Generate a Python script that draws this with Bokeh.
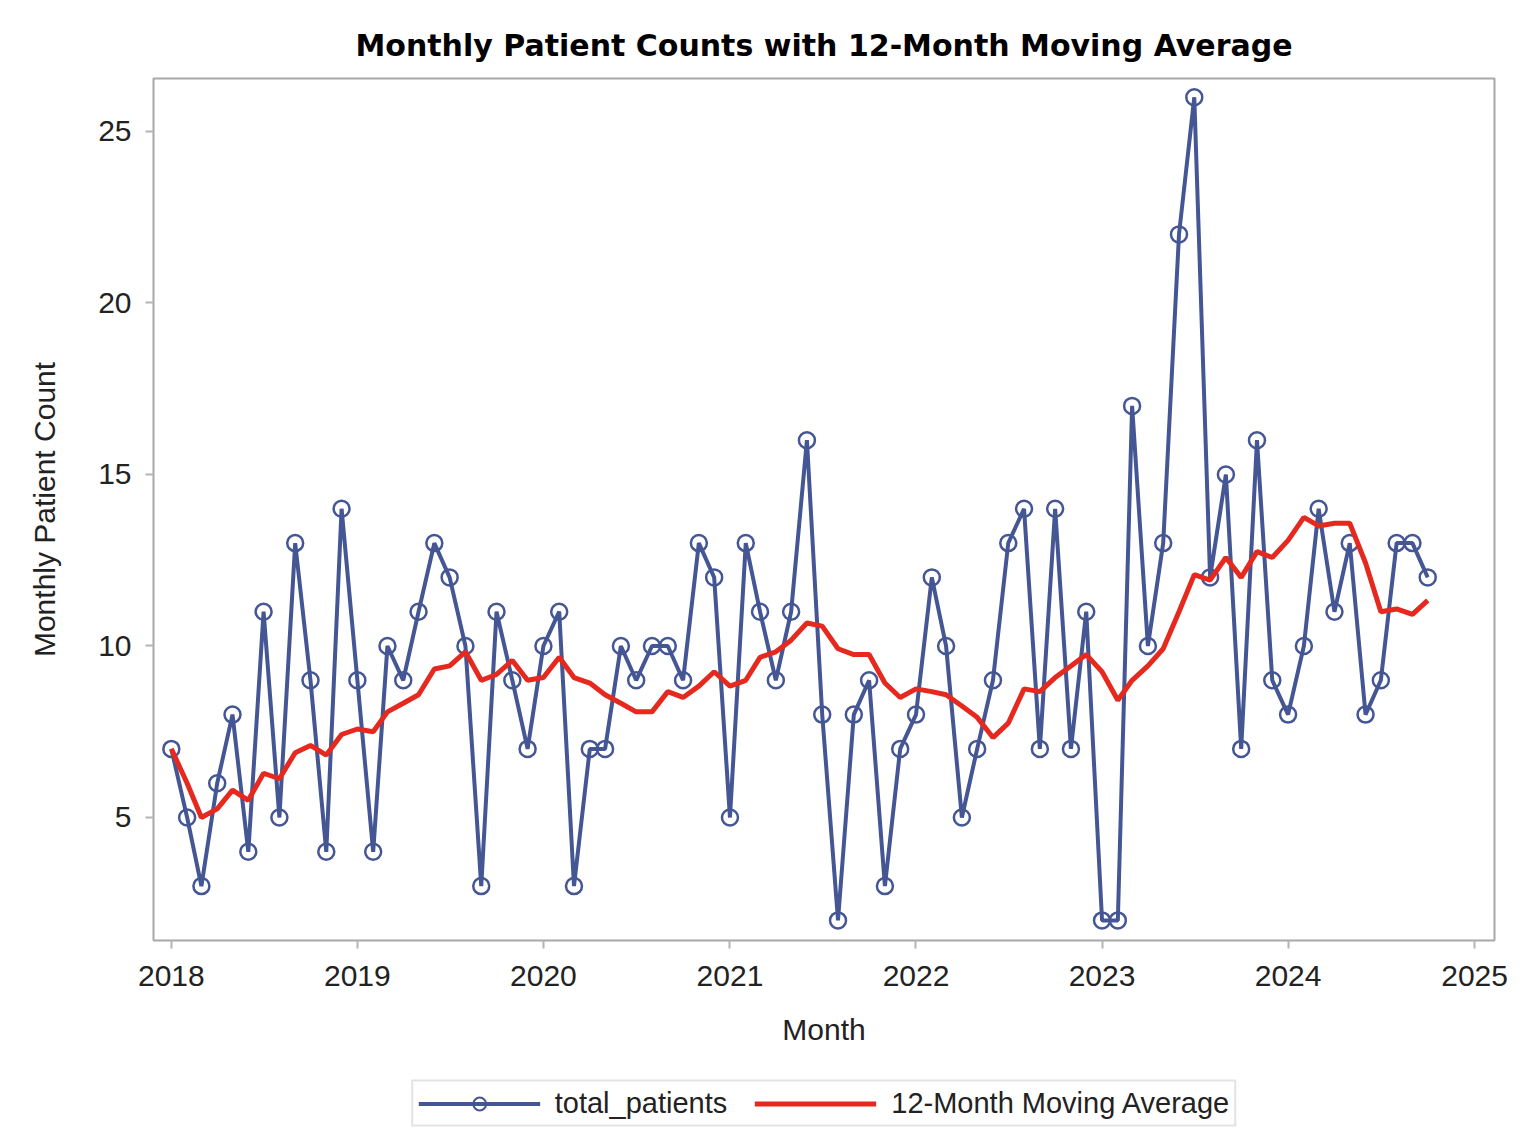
import pandas as pd
from datetime import datetime
from bokeh.plotting import figure
from bokeh.layouts import column
from bokeh.models import Range1d, FixedTicker, DatetimeTickFormatter, Legend, LegendItem
from bokeh.embed import file_html
from bokeh.resources import INLINE

# ---- data ----
start_month = "2018-01-01"
total_patients = [
    7, 5, 3, 6, 8, 4, 11, 5, 13, 9, 4, 14,      # 2018
    9, 4, 10, 9, 11, 13, 12, 10, 3, 11, 9, 7,   # 2019
    10, 11, 3, 7, 7, 10, 9, 10, 10, 9, 13, 12,  # 2020
    5, 13, 11, 9, 11, 16, 8, 2, 8, 9, 3, 7,     # 2021
    8, 12, 10, 5, 7, 9, 13, 14, 7, 14, 7, 11,   # 2022
    2, 2, 17, 10, 13, 22, 26, 12, 15, 7, 16, 9, # 2023
    8, 10, 14, 11, 13, 8, 9, 13, 13, 12,        # 2024
]
moving_avg = [
    7.00, 6.00, 5.00, 5.25, 5.80, 5.50, 6.29, 6.13, 6.89, 7.10, 6.82, 7.42,
    7.58, 7.50, 8.08, 8.33, 8.58, 9.33, 9.42, 9.83, 9.00, 9.17, 9.58, 9.00,
    9.08, 9.67, 9.08, 8.92, 8.58, 8.33, 8.08, 8.08, 8.67, 8.50, 8.83, 9.25,
    8.83, 9.00, 9.67, 9.83, 10.17, 10.67, 10.58, 9.92, 9.75, 9.75, 8.92, 8.50,
    8.75, 8.67, 8.58, 8.25, 7.92, 7.33, 7.75, 8.75, 8.67, 9.08, 9.42, 9.75,
    9.25, 8.42, 9.00, 9.42, 9.92, 11.00, 12.08, 11.92, 12.58, 12.00, 12.75, 12.58,
    13.08, 13.75, 13.50, 13.58, 13.58, 12.42, 11.00, 11.08, 10.92, 11.33,
]
year_ticks = [2018, 2019, 2020, 2021, 2022, 2023, 2024, 2025]
y_ticks = [5, 10, 15, 20, 25]
series_labels = ["total_patients", "12-Month Moving Average"]

months = pd.date_range(start_month, periods=len(total_patients), freq="MS")

BLUE = "#445694"
RED = "#E5291F"
FONT = "Liberation Sans"
TEXT = "#222222"
W = 1522

p = figure(
    width=W, height=1070,
    x_axis_type="datetime",
    x_range=Range1d(datetime(2017, 11, 27), datetime(2025, 2, 9)),
    y_range=Range1d(1.414, 26.545),
    output_backend="svg", toolbar_location=None,
    min_border_left=153, min_border_right=28, min_border_top=78, min_border_bottom=130,
    title="Monthly Patient Counts with 12-Month Moving Average",
)
p.background_fill_color = "white"
p.border_fill_color = "white"
p.grid.visible = False
p.outline_line_color = "#A8A8A8"
p.outline_line_width = 2

p.title.align = "center"
p.title.text_font = "DejaVu Sans"
p.title.text_font_style = "bold"
p.title.text_font_size = "30px"
p.title.text_color = "black"
p.title.standoff = 31

tick_ms = [datetime(y, 1, 1).timestamp() * 1000 for y in year_ticks]
p.xaxis.ticker = FixedTicker(ticks=tick_ms)
p.xaxis.formatter = DatetimeTickFormatter(years="%Y", months="%Y", days="%Y",
                                          hours="%Y", hourmin="%Y", minutes="%Y",
                                          minsec="%Y", seconds="%Y", milliseconds="%Y",
                                          microseconds="%Y")
p.yaxis.ticker = FixedTicker(ticks=y_ticks)
p.xaxis.axis_label = "Month"
p.yaxis.axis_label = "Monthly Patient Count"

for ax in (p.xaxis, p.yaxis):
    ax.axis_line_color = None
    ax.major_tick_out = 8
    ax.major_tick_in = 0
    ax.major_tick_line_color = "#B4B4B4"
    ax.major_tick_line_width = 2
    ax.minor_tick_line_color = None
    ax.major_label_text_font = FONT
    ax.major_label_text_font_size = "30px"
    ax.major_label_text_color = TEXT
    ax.axis_label_text_font = FONT
    ax.axis_label_text_font_size = "30px"
    ax.axis_label_text_font_style = "normal"
    ax.axis_label_text_color = TEXT
p.xaxis.major_label_standoff = 17
p.xaxis.axis_label_standoff = 24
p.yaxis.major_label_standoff = 14
p.yaxis.axis_label_standoff = 34

p.line(months, total_patients, line_color=BLUE, line_width=4)
p.scatter(months, total_patients, marker="circle", size=16,
          line_color=BLUE, line_width=2.5, fill_color=None)
p.line(months, moving_avg, line_color=RED, line_width=5)

# ---- legend strip below the chart (key renderers hold a single NaN: style only) ----
nan = float("nan")
lf = figure(width=W, height=66, output_backend="svg", toolbar_location=None,
            x_range=Range1d(0, 1), y_range=Range1d(0, 1),
            min_border_left=153, min_border_right=28, min_border_top=0, min_border_bottom=0)
lf.axis.visible = False
lf.grid.visible = False
lf.outline_line_color = None
lf.background_fill_color = "white"
lf.border_fill_color = "white"
k_line = lf.line(x=[nan], y=[nan], line_color=BLUE, line_width=4)
k_circ = lf.scatter(x=[nan], y=[nan], marker="circle", size=14, line_color=BLUE,
                    line_width=2, fill_color=None)
k_ma = lf.line(x=[nan], y=[nan], line_color=RED, line_width=5)

legend = Legend(items=[
    LegendItem(label=series_labels[0], renderers=[k_line, k_circ]),
    LegendItem(label=series_labels[1], renderers=[k_ma]),
])
legend.orientation = "horizontal"
legend.location = "center"
legend.glyph_width = 122
legend.glyph_height = 32
legend.label_standoff = 15
legend.spacing = 27
legend.padding = 5
legend.margin = 0
legend.label_text_font = FONT
legend.label_text_font_size = "29px"
legend.label_text_color = TEXT
legend.border_line_color = "#C8C8C8"
legend.border_line_width = 2
legend.background_fill_color = "white"
lf.add_layout(legend, "center")

layout = column(p, lf, spacing=0)
open("out.html", "w").write(file_html(layout, INLINE))
